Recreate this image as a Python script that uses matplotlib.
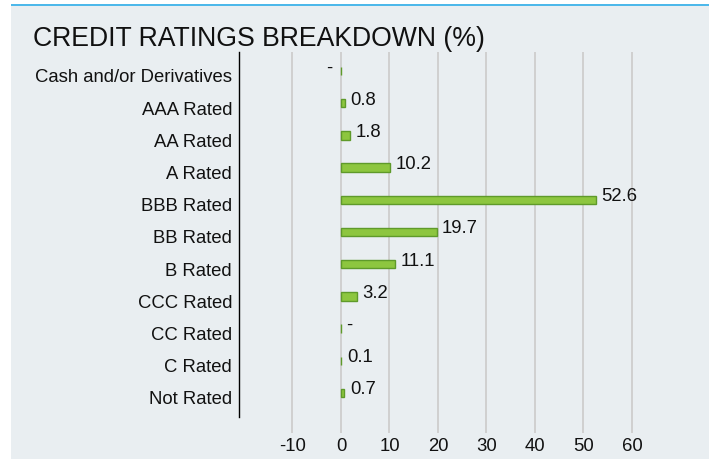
import matplotlib.pyplot as plt
from matplotlib.patches import Rectangle

# Chart data
ratings = ['Cash and/or Derivatives', 'AAA Rated', 'AA Rated', 'A Rated', 'BBB Rated',
           'BB Rated', 'B Rated', 'CCC Rated', 'CC Rated', 'C Rated', 'Not Rated']
values = [0.0, 0.8, 1.8, 10.2, 52.6, 19.7, 11.1, 3.2, 0.0, 0.1, 0.7]
value_labels = ['-', '0.8', '1.8', '10.2', '52.6', '19.7', '11.1', '3.2', '-', '0.1', '0.7']
x_ticks = [-10, 0, 10, 20, 30, 40, 50, 60]

plt.rcParams['font.family'] = ['Liberation Sans', 'DejaVu Sans']

W, H = 709, 460
fig = plt.figure(figsize=(W / 100, H / 100), dpi=100)
fig.patch.set_facecolor('white')

# Panel background and blue top rule
bg = '#e9eef1'
fig.add_artist(Rectangle((11 / W, 0), 1 - 11 / W, 1 - 5 / H, transform=fig.transFigure,
                         facecolor=bg, edgecolor='none', zorder=0))
fig.add_artist(Rectangle((11 / W, 1 - 7 / H), 1 - 11 / W, 2.5 / H, transform=fig.transFigure,
                         facecolor='#4db8ea', edgecolor='none', zorder=1))

fig.text(33 / W, 1 - 46 / H, 'CREDIT RATINGS BREAKDOWN (%)', fontsize=19.2, color='#111111',
         ha='left', va='baseline')

# Axes: left 239px, right 700px, top 53px, bottom 434px
ax = fig.add_axes([239 / W, 1 - 434 / H, (700 - 239) / W, (434 - 53) / H])
ax.set_facecolor('none')

px_per_unit = 4.85
ax.set_xlim(-(341 - 239) / px_per_unit, (700 - 341) / px_per_unit)
row = 32.2
ax.set_ylim(10 + (434 - 394) / row, -(72 - 53) / row)

pos = list(range(len(ratings)))
ax.barh(pos, values, height=0.26, color='#8dc63f', edgecolor='#5f9a2a', linewidth=1.0, zorder=3)

fs = 13.3
for i, (v, lab) in enumerate(zip(values, value_labels)):
    if i == 0:
        ax.annotate(lab, (v, i), xytext=(-6, 3), textcoords='offset points',
                    ha='right', va='center', fontsize=fs, color='#111111')
    else:
        ax.annotate(lab, (v, i), xytext=(4, 3), textcoords='offset points',
                    ha='left', va='center', fontsize=fs, color='#111111')

# category labels sit a little below the bar centres, as in the original
ax.set_yticks([p + 0.12 for p in pos])
ax.set_yticklabels(ratings, fontsize=fs, color='#111111')
ax.set_xticks(x_ticks)
ax.set_xticklabels([str(t) for t in x_ticks], fontsize=fs, color='#111111')
ax.tick_params(axis='y', length=0, pad=5)
ax.tick_params(axis='x', length=0, pad=3)

for t in x_ticks:
    ax.axvline(t, color='#d0d0d0', linewidth=1.4, zorder=1)

for s in ax.spines.values():
    s.set_visible(False)
ax.axvline(ax.get_xlim()[0], ymin=(434 - 418) / (434 - 53), ymax=1, color='black',
           linewidth=1.0, zorder=4, clip_on=False)

fig.savefig('out.png', dpi=100, facecolor=fig.get_facecolor())
